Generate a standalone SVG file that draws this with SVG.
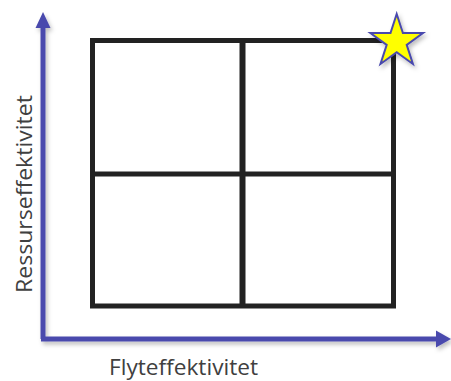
<svg xmlns="http://www.w3.org/2000/svg" width="451" height="381" viewBox="0 0 451 381">
<style>
.axis{stroke:#4a4aad;stroke-width:5;fill:none}
.head{fill:#4a4aad}
.grid{stroke:#222222;stroke-width:5;fill:none}
.lbl{font-family:"Open Sans","Liberation Sans",sans-serif;font-size:21px;fill:#404040}
</style>
<defs>
<filter id="sh" x="-20%" y="-20%" width="140%" height="140%">
<feDropShadow dx="2" dy="3" stdDeviation="2" flood-color="#000" flood-opacity="0.25"/>
</filter>
</defs>
<rect width="451" height="381" fill="#ffffff"/>
<g id="connectors" filter="url(#sh)">
<path class="axis" d="M43,339 V26"/>
<polygon class="head" points="35.5,28 43,12 50.5,28"/>
<path class="axis" d="M41,339 H437"/>
<polygon class="head" points="436,330.5 451,339 436,347.5"/>
</g>
<g id="grid">
<rect class="grid" x="92.5" y="40.5" width="301" height="265.5"/>
<path class="grid" d="M92.5,174 H393.5"/>
<path class="grid" style="stroke-width:6" d="M242.5,40.5 V306"/>
</g>
<g id="star" filter="url(#sh)">
<polygon points="396.7,14 402.9,33.1 423,33.1 406.7,44.9 412.9,64 396.7,52.2 380.5,64 386.7,44.9 370.4,33.1 390.5,33.1" fill="#ffff00" stroke="#4a4aad" stroke-width="2" stroke-linejoin="miter"/>
</g>
<g id="xlabel">
<text class="lbl" x="109" y="375" textLength="149" lengthAdjust="spacingAndGlyphs">Flyteffektivitet</text>
</g>
<g id="ylabel">
<text class="lbl" transform="translate(32,194) rotate(-90)" x="0" y="0" text-anchor="middle" textLength="198" lengthAdjust="spacingAndGlyphs">Ressurseffektivitet</text>
</g>
</svg>
